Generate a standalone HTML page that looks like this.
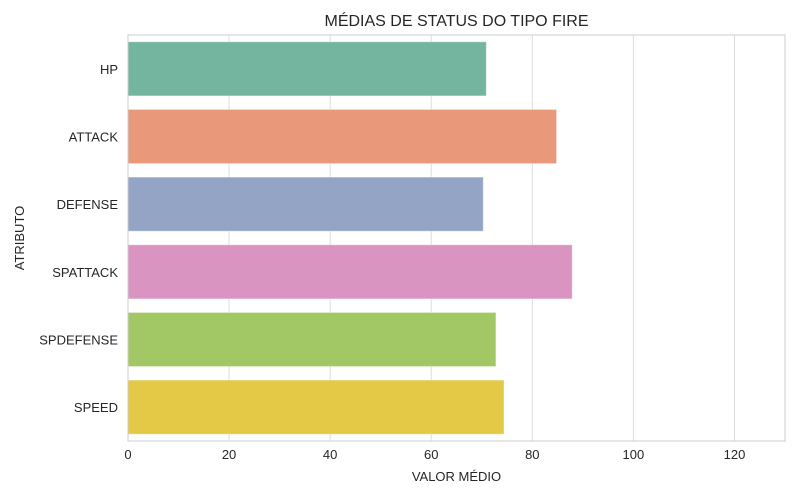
<!DOCTYPE html>
<html><head><meta charset="utf-8"><style>body{margin:0;background:#fff}svg{display:block;font-family:"Liberation Sans",sans-serif}</style></head>
<body>
<svg id="c" width="800" height="500"></svg>
<script>
const categories=["HP","ATTACK","DEFENSE","SPATTACK","SPDEFENSE","SPEED"];
const values=[70.9,84.8,70.3,87.9,72.8,74.4];
const colors=["#74b5a0","#e9987a","#94a4c4","#da94c1","#a2c865","#e3c946"];
const xTicks=[0,20,40,60,80,100,120];
const NS="http://www.w3.org/2000/svg";
const svg=document.getElementById('c');
const L=128,R=785,T=35,B=441,XMAX=130;
const x=v=>L+v/XMAX*(R-L);
const band=(B-T)/categories.length;
const yc=i=>T+band*(i+0.5);
function mk(t,a,txt){const e=document.createElementNS(NS,t);for(const k in a)e.setAttribute(k,a[k]);if(txt!=null)e.textContent=txt;svg.appendChild(e);return e;}
xTicks.forEach(t=>{
const g=mk('line',{x1:x(t),x2:x(t),y1:T,y2:B,stroke:'#dcdcdc','stroke-width':1});


const l=mk('text',{x:x(t),y:B+18,'text-anchor':'middle','font-size':13,fill:'#262626'},t);


});
categories.forEach((c,i)=>{
const h=band*0.8;
const r=mk('rect',{x:x(0),y:yc(i)-h/2,width:x(values[i])-x(0),height:h,fill:colors[i],stroke:'#ffffff','stroke-opacity':0.4,'stroke-width':1});


const l=mk('text',{x:L-10,y:yc(i)+5,'text-anchor':'end','font-size':13,fill:'#262626'},c);


});
const f=mk('rect',{x:L,y:T,width:R-L,height:B-T,fill:'none',stroke:'#cccccc','stroke-width':1});


const tt=mk('text',{x:(L+R)/2,y:26,'text-anchor':'middle','font-size':16,fill:'#262626'},'MÉDIAS DE STATUS DO TIPO FIRE');


const xt=mk('text',{x:(L+R)/2,y:481,'text-anchor':'middle','font-size':13,fill:'#262626'},'VALOR MÉDIO');


const yt=mk('text',{x:24,y:(T+B)/2,'text-anchor':'middle','font-size':13,fill:'#262626',transform:`rotate(-90 24 ${(T+B)/2})`},'ATRIBUTO');


</script>
</body></html>
